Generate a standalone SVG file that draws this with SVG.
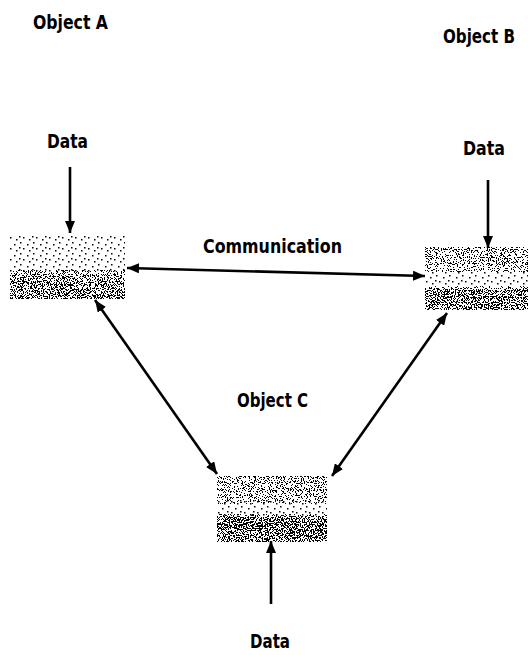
<svg xmlns="http://www.w3.org/2000/svg" width="528" height="655" viewBox="0 0 528 655">
  <style>
    .lbl { font-family: "DejaVu Sans Condensed", "Liberation Sans", sans-serif; font-weight: bold; font-size: 20px; fill: #000; }
    .conn { stroke: #000; stroke-width: 2.6; fill: none; }
    .box { filter: url(#dither); }
    .dot { fill: #000; }
  </style>
  <defs>
    <marker id="ah" viewBox="0 0 12 10" refX="12" refY="5" markerWidth="12" markerHeight="10" markerUnits="userSpaceOnUse" orient="auto-start-reverse">
      <path d="M0,0 L12,5 L0,10 Z" fill="#000"/>
    </marker>
    <pattern id="sparse" width="13" height="11" patternUnits="userSpaceOnUse">
      <rect class="dot" x="1" y="2" width="1.5" height="1.5"/>
      <rect class="dot" x="7" y="0" width="1.5" height="1.5"/>
      <rect class="dot" x="10" y="6" width="1.5" height="1.5"/>
      <rect class="dot" x="3" y="8" width="1.5" height="1.5"/>
      <rect class="dot" x="6" y="5" width="1.5" height="1.5"/>
    </pattern>
    <filter id="dither" x="0" y="0" width="1" height="1" color-interpolation-filters="sRGB">
      <feTurbulence type="fractalNoise" baseFrequency="0.85" numOctaves="2" seed="7" result="n0"/>
      <feComponentTransfer in="n0" result="n">
        <feFuncR type="linear" slope="5" intercept="-2"/>
        <feFuncG type="linear" slope="5" intercept="-2"/>
        <feFuncB type="linear" slope="5" intercept="-2"/>
        <feFuncA type="linear" slope="0" intercept="1"/>
      </feComponentTransfer>
      <feColorMatrix in="n" type="matrix" values="1 0 0 0 0  1 0 0 0 0  1 0 0 0 0  0 0 0 0 1" result="ng"/>
      <feComposite in="SourceGraphic" in2="ng" operator="arithmetic" k1="0" k2="1" k3="-1" k4="0.5" result="d"/>
      <feComponentTransfer in="d">
        <feFuncR type="discrete" tableValues="0 1"/>
        <feFuncG type="discrete" tableValues="0 1"/>
        <feFuncB type="discrete" tableValues="0 1"/>
        <feFuncA type="linear" slope="0" intercept="1"/>
      </feComponentTransfer>
    </filter>
    <linearGradient id="gA" x1="0" y1="0" x2="0" y2="1">
      <stop offset="0" stop-color="#c6c6c6"/>
      <stop offset="0.55" stop-color="#c2c2c2"/>
      <stop offset="0.66" stop-color="#6a6a6a"/>
      <stop offset="1" stop-color="#5c5c5c"/>
    </linearGradient>
    <linearGradient id="gB" x1="0" y1="0" x2="0" y2="1">
      <stop offset="0" stop-color="#9a9a9a"/>
      <stop offset="0.3" stop-color="#a6a6a6"/>
      <stop offset="0.42" stop-color="#c4c4c4"/>
      <stop offset="0.62" stop-color="#c2c2c2"/>
      <stop offset="0.7" stop-color="#4d4d4d"/>
      <stop offset="1" stop-color="#5a5a5a"/>
    </linearGradient>
    <linearGradient id="gC" x1="0" y1="0" x2="0" y2="1">
      <stop offset="0" stop-color="#969696"/>
      <stop offset="0.3" stop-color="#acacac"/>
      <stop offset="0.45" stop-color="#c4c4c4"/>
      <stop offset="0.58" stop-color="#c2c2c2"/>
      <stop offset="0.66" stop-color="#383838"/>
      <stop offset="1" stop-color="#505050"/>
    </linearGradient>
  </defs>

  <g id="objectA">
    <text class="lbl" x="33" y="29" textLength="75" lengthAdjust="spacingAndGlyphs">Object A</text>
    <rect class="box" x="10" y="235" width="115" height="64" fill="url(#gA)"/>
    <rect x="10" y="235" width="115" height="37" fill="url(#sparse)"/>
  </g>
  <g id="objectB">
    <text class="lbl" x="443" y="43" textLength="72" lengthAdjust="spacingAndGlyphs">Object B</text>
    <rect class="box" x="425" y="247" width="103" height="63" fill="url(#gB)"/>
    <rect x="425" y="272" width="103" height="14" fill="url(#sparse)"/>
  </g>
  <g id="objectC">
    <text class="lbl" x="237" y="407" textLength="71" lengthAdjust="spacingAndGlyphs">Object C</text>
    <rect class="box" x="217" y="476" width="110" height="66" fill="url(#gC)"/>
    <rect x="217" y="500" width="110" height="16" fill="url(#sparse)"/>
  </g>

  <g id="dataA">
    <text class="lbl" x="47" y="148" textLength="41" lengthAdjust="spacingAndGlyphs">Data</text>
  </g>
  <g id="dataB">
    <text class="lbl" x="463" y="155" textLength="42" lengthAdjust="spacingAndGlyphs">Data</text>
  </g>
  <g id="dataC">
    <text class="lbl" x="250" y="648" textLength="40" lengthAdjust="spacingAndGlyphs">Data</text>
  </g>
  <g id="commLabel">
    <text class="lbl" x="203" y="253" textLength="139" lengthAdjust="spacingAndGlyphs">Communication</text>
  </g>

  <g id="connectors">
    <line class="conn" x1="70" y1="167" x2="70" y2="233" marker-end="url(#ah)"/>
    <line class="conn" x1="488" y1="180" x2="488" y2="248" marker-end="url(#ah)"/>
    <line class="conn" x1="271" y1="604" x2="271" y2="541" marker-end="url(#ah)"/>
    <line class="conn" x1="127" y1="268" x2="425" y2="276" marker-start="url(#ah)" marker-end="url(#ah)"/>
    <line class="conn" x1="95" y1="300" x2="217" y2="474" marker-start="url(#ah)" marker-end="url(#ah)"/>
    <line class="conn" x1="447" y1="313" x2="332" y2="476" marker-start="url(#ah)" marker-end="url(#ah)"/>
  </g>
</svg>
